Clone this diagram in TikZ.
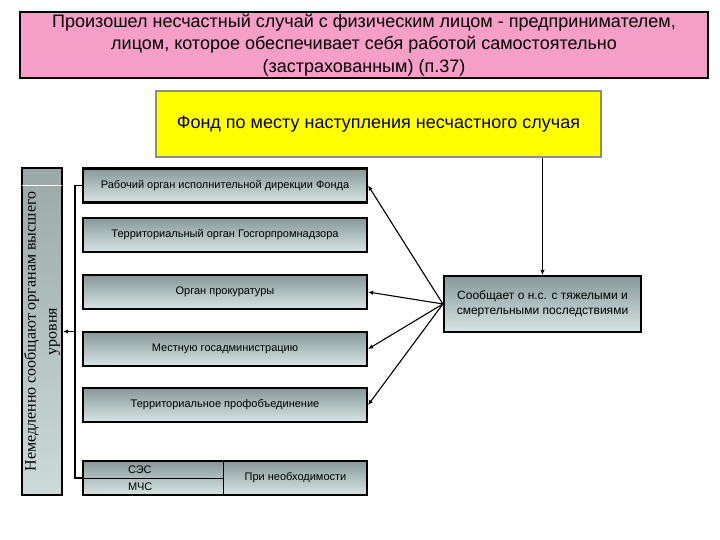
\documentclass[tikz,border=0pt]{standalone}
\usepackage{fontspec}
\setmainfont{Liberation Sans}
\newfontfamily\sideserif{Liberation Serif}
\usetikzlibrary{arrows.meta}
\definecolor{boxpink}{RGB}{245,158,200}
\definecolor{boxyellow}{RGB}{255,255,0}
\definecolor{shadetop}{RGB}{135,152,152}
\definecolor{shadebot}{RGB}{216,229,229}
\definecolor{sidetop}{RGB}{155,168,168}
\definecolor{sidebot}{RGB}{205,218,218}

\begin{document}
\begin{tikzpicture}[x=1pt, y=-1pt,
  body/.style={draw, line width=2.2pt, rectangle, inner sep=0pt, top color=shadetop, bottom color=shadebot, minimum width=284pt, minimum height=34pt, align=center, font=\fontsize{11}{13}\selectfont},
  cell/.style={inner sep=0pt, minimum height=17pt, font=\fontsize{11}{13}\selectfont},
  arr/.style={-{Latex[length=5pt,width=4.5pt]}, line width=1.1pt}
]
\useasboundingbox (0,0) rectangle (720,540);
\node[draw, line width=2.4pt, fill=boxpink, minimum width=688pt, minimum height=66pt, inner sep=0pt, align=center, font=\fontsize{18}{22.5}\selectfont] (head) at (364,45) {Произошел несчастный случай с физическим лицом - предпринимателем,\\лицом, которое обеспечивает себя работой самостоятельно\\(застрахованным) (п.37)};
\node[draw=black!45, line width=1.6pt, fill=boxyellow, minimum width=445pt, minimum height=66pt, inner sep=0pt, font=\fontsize{18}{21}\selectfont] (fund) at (378.5,124) {Фонд по месту наступления несчастного случая};
\node[draw, line width=2.2pt, top color=sidetop, bottom color=sidebot, rotate=90, minimum width=327pt, minimum height=40pt, inner sep=0pt, align=center, font=\sideserif\fontsize{16}{21}\selectfont] (side) at (42,331.5) {Немедленно сообщают органам высшего\\уровня};
\draw[white, line width=1pt] (side.north east) ++(1.5,19) coordinate (sidecut) -- ([xshift=-1.5pt]sidecut -| side.south);

\node[body] (org1) at (225,185.5) {Рабочий орган исполнительной дирекции Фонда};
\node[body] (org2) at (225,235) {Территориальный орган Госгорпромнадзора};
\node[body] (org3) at (225,292) {Орган прокуратуры};
\node[body] (org4) at (225,349) {Местную госадминистрацию};
\node[body] (org5) at (225,405) {Территориальное профобъединение};
\node[body] (org6) at (225,478) {};
\node[cell, minimum width=141pt, text width=51pt, align=left] (ses) at (153.5,469.5) {СЭС};
\node[cell, minimum width=141pt, text width=51pt, align=left] (mchs) at (153.5,486.5) {МЧС};
\node[cell, minimum width=143pt, minimum height=34pt] (need) at (295.5,478) {При необходимости};
\draw[line width=1pt] (ses.south west) -- (ses.south east);
\draw[line width=1pt] (need.north west) -- (need.south west);

\node[draw, line width=2.2pt, rectangle, inner sep=0pt, top color=shadetop, bottom color=shadebot, minimum width=197pt, minimum height=56pt, align=center, font=\fontsize{12}{15.5}\selectfont] (report) at (542.5,304) {Сообщает о н.с. с тяжелыми и\\смертельными последствиями};

\draw[arr] (report.north |- fund.south) -- (report.north);
\draw[arr] (report.west) -- (org1.east);
\draw[arr] (report.west) -- (org3.east);
\draw[arr] (report.west) -- (org4.east);
\draw[arr] (report.west) -- (org5.east);

\draw[line width=1.3pt] (org1.west) -- ++(-7,0) coordinate (brk) |- (org6.west);
\draw[arr, line width=1.3pt] (brk |- side.center) -- (side.south);
\end{tikzpicture}
\end{document}
